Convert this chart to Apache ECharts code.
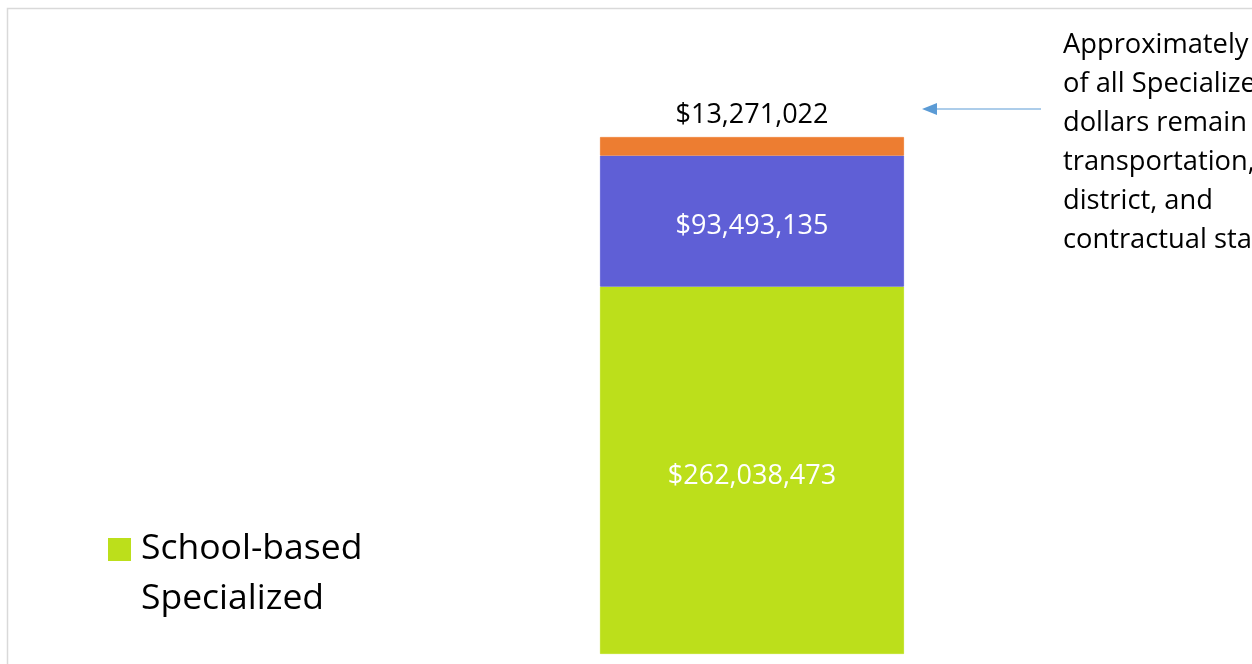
<!DOCTYPE html>
<html>
<head>
<meta charset="utf-8">
<script src="https://cdn.jsdelivr.net/npm/echarts@6/dist/echarts.min.js"></script>
<style>html,body{margin:0;padding:0;background:#fff;}#chart{width:1252px;height:664px;}</style>
</head>
<body>
<div id="chart"></div>
<script>
var categories = ['Specialized'];
var schoolBased = [262038473];
var district = [93493135];
var transport = [13271022];
var seriesNames = ['School-based Specialized', 'District Specialized', 'Transportation and Contractual'];
var annotationLines = ['Approximately 29%', 'of all Specialized', 'dollars remain in', 'transportation,', 'district, and', 'contractual staff'];

var total = schoolBased[0] + district[0] + transport[0];
function money(v) { return '$' + v.toLocaleString('en-US'); }
var FONT = '"Open Sans", "Noto Sans", sans-serif';

var chart = echarts.init(document.getElementById('chart'));
chart.setOption({
  animation: false,
  backgroundColor: '#fff',
  grid: { left: 400, right: 148, top: 137, bottom: 10 },
  xAxis: { type: 'category', data: categories, show: false },
  yAxis: { type: 'value', min: 0, max: total, show: false },
  legend: {
    data: [seriesNames[0]],
    left: 103, top: 519,
    itemWidth: 23, itemHeight: 72, itemGap: 0,
    icon: 'path://M0,0h23v23h-23z M0,71.99h0.01v0.01h-0.01z',
    itemStyle: { borderWidth: 0 },
    formatter: function () { return 'School-based\nSpecialized'; },
    textStyle: { fontFamily: FONT, fontSize: 35.5, color: '#000', lineHeight: 50, padding: [0, 0, 0, 5] },
    selectedMode: false
  },
  series: [
    {
      name: seriesNames[0], type: 'bar', stack: 's', data: schoolBased, barWidth: 304,
      itemStyle: { color: '#BCDF1B', borderColor: '#BCDF1B', borderWidth: 0.8 },
      label: { show: true, position: 'inside', offset: [0, 6], formatter: function (p) { return money(p.value); }, color: '#fff', fontFamily: FONT, fontSize: 27 }
    },
    {
      name: seriesNames[1], type: 'bar', stack: 's', data: district, barWidth: 304,
      itemStyle: { color: '#5F5FD6', borderColor: '#5F5FD6', borderWidth: 0.8 },
      label: { show: true, position: 'inside', offset: [0, 5], formatter: function (p) { return money(p.value); }, color: '#fff', fontFamily: FONT, fontSize: 27 }
    },
    {
      name: seriesNames[2], type: 'bar', stack: 's', data: transport, barWidth: 304,
      itemStyle: { color: '#ED7D31', borderColor: '#ED7D31', borderWidth: 0.8 },
      label: { show: true, position: 'top', distance: 8, formatter: function (p) { return money(p.value); }, color: '#000', fontFamily: FONT, fontSize: 27 }
    }
  ],
  graphic: [
    { type: 'rect', shape: { x: 7.5, y: 8.5, width: 1300, height: 700 }, style: { fill: 'none', stroke: '#d9d9d9', lineWidth: 1.5 }, silent: true },
    { type: 'line', shape: { x1: 1041, y1: 109, x2: 930, y2: 109 }, style: { stroke: '#5B9BD5', lineWidth: 1 } },
    { type: 'polygon', shape: { points: [[922, 109], [937, 103], [937, 115]] }, style: { fill: '#5B9BD5' } },
    { type: 'text', left: 1063, top: 26, style: { text: annotationLines.join('\n'), fontFamily: FONT, fontSize: 27.3, lineHeight: 39, fill: '#000' } }
  ]
});
</script>
</body>
</html>
